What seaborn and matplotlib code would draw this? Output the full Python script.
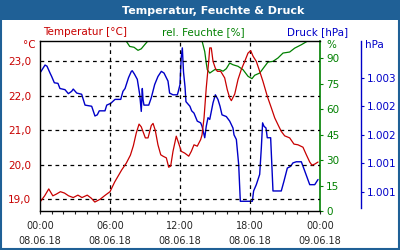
import numpy as np
import pandas as pd
import seaborn as sns
import matplotlib
matplotlib.use("Agg")
import matplotlib.pyplot as plt
from matplotlib.patches import Rectangle

# ---------------- data (hours since 08.06.18 00:00) ----------------
temp_hours = [0.0, 0.4, 0.75, 1.1, 1.4, 1.75, 2.1, 2.45, 2.85, 3.25, 3.6, 4.05, 4.4, 4.7,
              5.15, 5.6, 6.0, 6.4, 7.0, 7.4, 7.75, 8.0, 8.25, 8.49, 8.68, 9.03, 9.26, 9.54,
              9.69, 9.88, 10.11, 10.35, 10.54, 10.83, 11.03, 11.2, 11.4, 11.68, 11.91, 12.11,
              12.4, 12.75, 12.97, 13.2, 13.48, 13.77, 13.89, 14.06, 14.25, 14.46, 14.55, 14.68,
              14.83, 15.03, 15.2, 15.49, 15.83, 16.05, 16.26, 16.4, 16.69, 16.97, 17.25, 17.55,
              17.83, 18.06, 18.26, 18.54, 18.83, 19.11, 19.48, 19.83, 20.12, 20.46, 20.68,
              20.97, 21.4, 21.77, 22.11, 22.54, 22.83, 23.12, 23.31, 23.55, 23.83]
temp_values = [18.92, 19.1, 19.3, 19.1, 19.15, 19.22, 19.18, 19.1, 19.05, 19.12, 19.05, 19.12,
               19.03, 18.92, 19.0, 19.12, 19.22, 19.5, 19.85, 20.05, 20.28, 20.55, 20.92, 21.18,
               21.1, 20.78, 20.78, 21.14, 21.2, 21.0, 20.58, 20.29, 20.25, 20.2, 19.93, 19.96,
               20.39, 20.83, 20.6, 20.39, 20.34, 20.25, 20.39, 20.58, 20.54, 20.73, 20.87, 21.36,
               22.23, 23.0, 23.39, 23.39, 23.0, 22.8, 22.71, 22.71, 22.52, 22.18, 21.94, 21.86,
               22.05, 22.47, 22.76, 23.0, 23.24, 23.31, 23.15, 23.0, 22.71, 22.42, 21.99, 21.65,
               21.36, 21.12, 20.97, 20.84, 20.78, 20.6, 20.58, 20.51, 20.29, 20.08, 19.99, 20.02,
               20.08]

hum_hours = [0.0, 3.0, 6.0, 7.2, 7.37, 7.69, 8.06, 8.4, 8.68, 8.97, 9.26, 9.5, 11.0, 13.7,
             13.89, 14.12, 14.25, 14.34, 14.55, 14.97, 15.4, 15.69, 15.97, 16.26, 16.54, 16.97,
             17.4, 17.83, 17.97, 18.17, 18.4, 18.83, 19.2, 19.54, 19.97, 20.4, 20.83, 21.4,
             21.83, 22.4, 22.97, 23.3, 24.0]
hum_values = [106, 106, 106, 103, 100.3, 97, 96.5, 94.7, 95.6, 98, 100.3, 104, 106, 104,
              100.2, 94, 87.2, 83.3, 81.3, 83.3, 83.3, 82.4, 83.9, 87.2, 86.2, 85.3,
              83.3, 79.4, 78.8, 78, 80, 81.3, 84.7, 87.8, 88.2, 90.2, 93.1, 93.7,
              96, 98, 100.3, 103, 105]

pres_hours = [0.06, 0.43, 0.6, 0.86, 1.0, 1.23, 1.54, 1.71, 2.14, 2.43, 2.71, 2.85, 3.15, 3.57,
              3.86, 4.43, 4.71, 4.91, 5.08, 5.57, 5.72, 6.06, 6.43, 6.92, 7.11, 7.29, 7.4, 7.59,
              7.83, 7.91, 8.1, 8.34, 8.55, 8.68, 8.77, 8.83, 8.91, 9.03, 9.32, 9.54, 9.83, 10.11,
              10.4, 10.63, 10.97, 11.11, 11.4, 11.77, 11.83, 12.0, 12.1, 12.2, 12.3, 12.43,
              12.51, 12.85, 13.0, 13.2, 13.48, 13.77, 13.89, 14.12, 14.25, 14.4, 14.55, 14.83,
              15.03, 15.25, 15.43, 15.6, 15.97, 16.26, 16.54, 16.63, 16.83, 17.03, 17.17, 18.2,
              18.31, 18.54, 18.83, 18.97, 19.08, 19.2, 19.37, 19.48, 19.77, 19.97, 20.68, 20.91,
              21.2, 21.48, 21.68, 21.97, 22.4, 22.69, 23.12, 23.55, 23.83]
pres_values = [1003.10, 1003.22, 1003.20, 1003.08, 1003.02, 1002.91, 1002.90, 1002.81, 1002.79,
               1002.72, 1002.76, 1002.80, 1002.73, 1002.71, 1002.52, 1002.50, 1002.33, 1002.35,
               1002.42, 1002.42, 1002.52, 1002.55, 1002.62, 1002.62, 1002.76, 1002.81, 1002.88,
               1003.0, 1003.11, 1003.12, 1003.06, 1002.97, 1002.70, 1002.41, 1002.81, 1002.62,
               1002.52, 1002.52, 1002.52, 1002.65, 1002.88, 1003.02, 1003.11, 1003.08, 1002.94,
               1002.73, 1002.70, 1002.70, 1002.74, 1002.88, 1003.34, 1003.52, 1003.1, 1002.84,
               1002.58, 1002.5, 1002.42, 1002.38, 1002.24, 1002.21, 1002.15, 1001.95, 1002.15,
               1002.30, 1002.27, 1002.56, 1002.70, 1002.62, 1002.5, 1002.35, 1002.32, 1002.24,
               1002.12, 1002.0, 1001.92, 1001.48, 1000.84, 1000.84, 1001.02, 1001.13, 1001.31,
               1001.77, 1002.21, 1002.15, 1002.12, 1001.95, 1001.95, 1001.02, 1001.02, 1001.19,
               1001.42, 1001.45, 1001.51, 1001.53, 1001.53, 1001.37, 1001.13, 1001.13, 1001.22]

x_ticks = [0, 6, 12, 18, 24]
x_labels = ["00:00\n08.06.18", "06:00\n08.06.18", "12:00\n08.06.18", "18:00\n08.06.18",
            "00:00\n09.06.18"]
temp_ticks = [19, 20, 21, 22, 23]
temp_labels = ["19,0", "20,0", "21,0", "22,0", "23,0"]
hum_ticks = [0, 15, 30, 45, 60, 75, 90]
pres_ticks = [1001.0, 1001.5, 1002.0, 1002.5, 1003.0]
pres_labels = ["1.001", "1.001", "1.002", "1.002", "1.003"]

# ---------------- style ----------------
RED = "#c80000"
GREEN = "#008000"
BLUE = "#0000c8"
FRAME = "#1f6096"

sns.set_style("white")
plt.rcParams["font.family"] = ["DejaVu Sans"]
plt.rcParams["font.size"] = 7

fig = plt.figure(figsize=(4, 2.5), dpi=100)
fig.patch.set_facecolor("white")

# frame and title bar
fig.patches.append(Rectangle((0, 0.92), 1, 0.08, transform=fig.transFigure,
                             facecolor=FRAME, edgecolor="none", zorder=0))
fig.patches.append(Rectangle((0.002, 0.003), 0.996, 0.994, transform=fig.transFigure,
                             facecolor="none", edgecolor=FRAME, lw=1.5, zorder=0))
fig.text(0.533, 0.958, "Temperatur, Feuchte & Druck", color="white", weight="bold",
         ha="center", va="center", fontsize=8)

ax = fig.add_axes([0.1, 0.156, 0.7, 0.68])
ax_h = ax.twinx()
ax_p = ax.twinx()

df_t = pd.DataFrame({"h": temp_hours, "v": temp_values})
df_h = pd.DataFrame({"h": hum_hours, "v": hum_values})
df_p = pd.DataFrame({"h": pres_hours, "v": pres_values})

sns.lineplot(data=df_h, x="h", y="v", ax=ax_h, color=GREEN, lw=0.9)
sns.lineplot(data=df_p, x="h", y="v", ax=ax_p, color=BLUE, lw=1.0)
sns.lineplot(data=df_t, x="h", y="v", ax=ax, color=RED, lw=0.9)
ax.set_zorder(3)
ax.patch.set_visible(False)
ax_p.set_zorder(2)
ax_h.set_zorder(1)

# temperature axis
ax.set_xlim(0, 24)
ax.set_ylim(18.66, 23.59)
ax.set_yticks(temp_ticks)
ax.set_yticklabels(temp_labels, color=RED)
ax.set_xticks(x_ticks)
ax.set_xticklabels(x_labels, linespacing=1.6)
ax.set_xticks(np.arange(0, 25, 1), minor=True)
ax.set_xlabel("")
ax.set_ylabel("")
ax.tick_params(axis="y", left=False, pad=3, labelsize=7.5)
ax.tick_params(axis="x", which="both", direction="out", length=2.5, width=0.8,
               bottom=True, pad=4.5, labelsize=7)
ax.grid(True, axis="both", which="major", color="black", linestyle=(0, (3, 3)), lw=0.9)
for s in ["left", "bottom", "top"]:
    ax.spines[s].set_color("black")
    ax.spines[s].set_linewidth(1.0)
ax.spines["right"].set_visible(False)
# hide vertical gridlines at the ends
xgl = ax.get_xgridlines()
xgl[0].set_visible(False)
xgl[-1].set_visible(False)

# humidity axis
ax_h.set_ylim(0, 100.2)
ax_h.set_yticks(hum_ticks)
ax_h.set_yticklabels([str(t) for t in hum_ticks], color=GREEN)
ax_h.set_ylabel("")
ax_h.set_xlabel("")
ax_h.tick_params(axis="y", right=True, direction="out", length=2.5, width=0.8,
                 colors=GREEN, pad=2, labelsize=7.5)
for s in ["left", "bottom", "top"]:
    ax_h.spines[s].set_visible(False)
ax_h.spines["right"].set_color(GREEN)
ax_h.spines["right"].set_linewidth(1.2)

# pressure axis
ax_p.set_ylim(1000.67, 1003.64)
ax_p.set_yticks(pres_ticks)
ax_p.set_yticklabels(pres_labels, color=BLUE)
ax_p.set_ylabel("")
ax_p.set_xlabel("")
ax_p.spines["right"].set_position(("axes", 1.146))
ax_p.spines["right"].set_color(BLUE)
ax_p.spines["right"].set_linewidth(1.0)
ax_p.spines["right"].set_bounds(1000.72, 1003.64)
for s in ["left", "bottom", "top"]:
    ax_p.spines[s].set_visible(False)
ax_p.tick_params(axis="y", right=True, direction="out", length=2, width=0.8,
                 colors=BLUE, pad=2, labelsize=7.5)

# series titles and units
fig.text(0.1075, 0.872, "Temperatur [°C]", color=RED, ha="left", va="center", fontsize=7.5)
fig.text(0.5075, 0.872, "rel. Feuchte [%]", color=GREEN, ha="center", va="center", fontsize=7.5)
fig.text(0.87, 0.872, "Druck [hPa]", color=BLUE, ha="right", va="center", fontsize=7.5)
fig.text(0.09, 0.818, "°C", color=RED, ha="right", va="center", fontsize=7.5)
fig.text(0.817, 0.818, "%", color=GREEN, ha="left", va="center", fontsize=7.5)
fig.text(0.912, 0.818, "hPa", color=BLUE, ha="left", va="center", fontsize=7.5)

fig.savefig("out.png", dpi=100, facecolor="white")
